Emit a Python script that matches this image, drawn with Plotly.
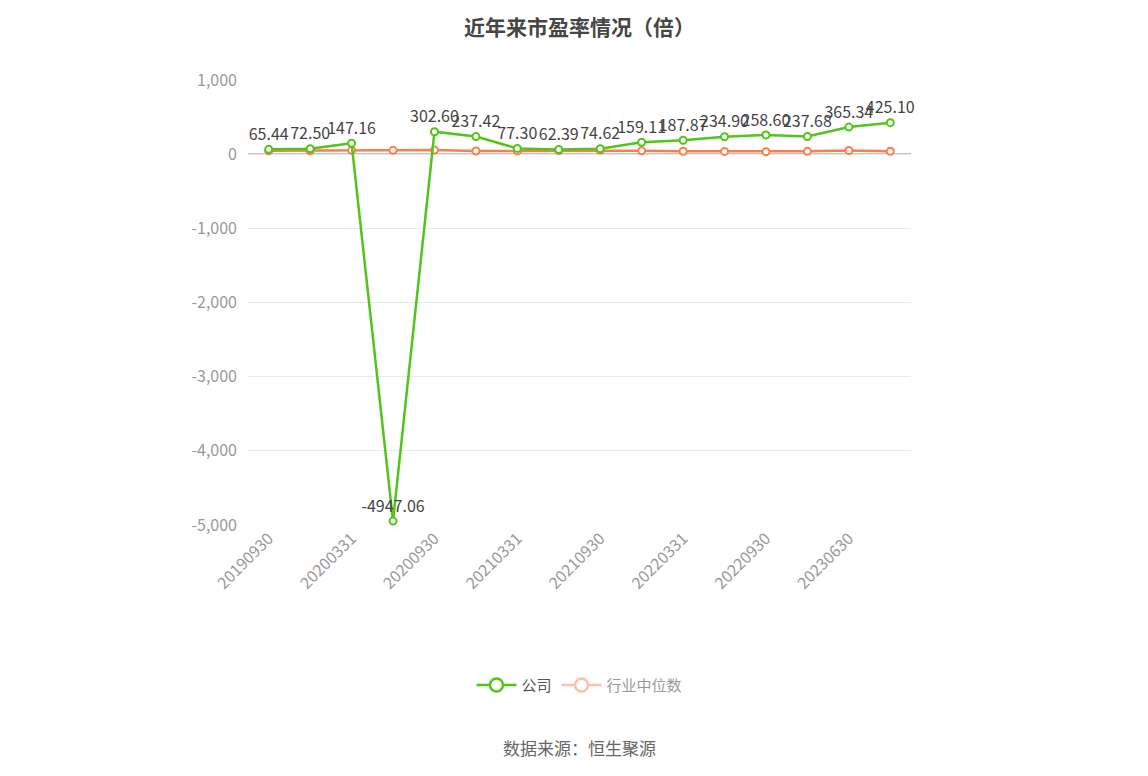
import plotly.graph_objects as go

# report dates (x categories)
dates = ['20190930', '20191231', '20200331', '20200630', '20200930', '20201231',
         '20210331', '20210630', '20210930', '20211231', '20220331', '20220630',
         '20220930', '20221231', '20230630', '20230930']
# company PE
company = [65.44, 72.50, 147.16, -4947.06, 302.60, 237.42, 77.30, 62.39, 74.62,
           159.11, 187.87, 234.90, 258.60, 237.68, 365.34, 425.10]
# industry median PE
industry = [45, 46, 52, 52, 55, 42, 44, 50, 52, 45, 40, 37, 33, 38, 50, 40]

tick_dates = dates[::2]
y_ticks = [1000, 0, -1000, -2000, -3000, -4000, -5000]
y_text = ['1,000', '0', '-1,000', '-2,000', '-3,000', '-4,000', '-5,000']

green = '#52c41a'
orange = '#f7804f'
font_main = 'Noto Sans CJK SC, Open Sans'

fig = go.Figure()

fig.add_trace(go.Scatter(
    x=dates, y=industry, mode='lines+markers', name='行业中位数',
    line=dict(color=orange, width=2.5),
    marker=dict(size=7, color='white', line=dict(color=orange, width=2)),
    showlegend=False, hoverinfo='skip'))

fig.add_trace(go.Scatter(
    x=dates, y=company, mode='lines+markers+text', name='公司',
    line=dict(color=green, width=2.5),
    marker=dict(size=7, color='white', line=dict(color=green, width=2)),
    text=['%.2f' % v for v in company], textposition='top center',
    textfont=dict(size=16, color='#444', family=font_main),
    cliponaxis=False, showlegend=False, hoverinfo='skip'))

# legend-only entries
fig.add_trace(go.Scatter(
    x=[None], y=[None], mode='lines+markers', name='<span style="color:#555">公司</span>',
    line=dict(color=green, width=2.5),
    marker=dict(size=13, color='white', line=dict(color=green, width=2.5))))
fig.add_trace(go.Scatter(
    x=[None], y=[None], mode='lines+markers', name='<span style="color:#999">行业中位数</span>',
    line=dict(color='#fdc1aa', width=2.5),
    marker=dict(size=13, color='white', line=dict(color='#fdc1aa', width=2.5))))

# axis line at zero and its ticks
shapes = [dict(type='line', xref='paper', x0=0, x1=1, yref='y', y0=0, y1=0,
               line=dict(color='#888', width=1.5), layer='below')]
for d in tick_dates:
    shapes.append(dict(type='line', xref='x', x0=d, x1=d, yref='y', ysizemode='pixel',
                       yanchor=0, y0=0, y1=-6, line=dict(color='#888', width=1.5)))

fig.update_layout(
    width=1148, height=776,
    margin=dict(l=240, r=245, t=72, b=259),
    paper_bgcolor='white', plot_bgcolor='white',
    font=dict(family=font_main, color='#999'),
    title=dict(text='<b>近年来市盈率情况（倍）</b>', x=0.5, xanchor='center', y=0.975,
               yanchor='middle', xref='paper',
               font=dict(size=21, color='#464646', family=font_main)),
    xaxis=dict(type='category', categoryorder='array', categoryarray=dates,
               tickmode='array', tickvals=tick_dates, ticktext=tick_dates,
               tickangle=-45, tickfont=dict(size=16, color='#999'),
               showgrid=False, showline=False, ticks='', range=[-0.5, len(dates) - 0.5]),
    yaxis=dict(range=[-5000, 1000], tickvals=y_ticks, ticktext=y_text,
               tickfont=dict(size=16, color='#999'), gridcolor='#e6e9f0', gridwidth=1,
               zeroline=False, showline=False, ticks='', ticklabelstandoff=10),
    legend=dict(orientation='h', x=0.5, xanchor='center', y=-0.36, yanchor='middle',
                font=dict(size=15, family=font_main), itemwidth=40),
    shapes=shapes,
    annotations=[dict(text='数据来源：恒生聚源', xref='paper', yref='paper', x=0.5, y=-0.5,
                      xanchor='center', yanchor='middle', showarrow=False,
                      font=dict(size=17, color='#666', family=font_main))],
)

fig.write_html('out.html')
